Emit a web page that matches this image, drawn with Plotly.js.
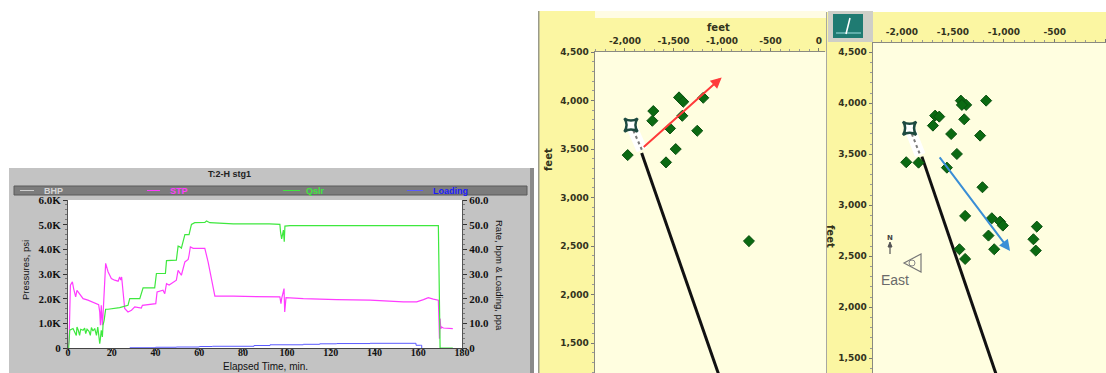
<!DOCTYPE html>
<html>
<head>
<meta charset="utf-8">
<script src="https://cdn.plot.ly/plotly-3.0.1.min.js"></script>
<style>
  html, body { margin: 0; padding: 0; background: #ffffff; }
  #chart { width: 1106px; height: 373px; }
</style>
</head>
<body>
<div id="chart"></div>
<script>
// ---- Treatment plot: stage T:2-H stg1 ----
const stpTime = [0, 0.5, 1.1, 2.0, 2.6, 3.5, 4.1, 5.3, 6.9, 9.1, 11.4, 13, 14, 14.5, 14.8, 15.2, 15.7, 16, 16.5, 17.2, 18.3, 19.8, 21.3, 22.9, 23.6, 24.1, 24.5, 25.2, 25.9, 27.4, 29, 30.5, 33.5, 34, 38.1, 40.1, 40.7, 43.4, 44.2, 45, 46.2, 48, 49.5, 50.3, 51.8, 53.4, 54.9, 55.3, 55.9, 57.2, 62.5, 64, 65.5, 67.1, 75.5, 92, 96.8, 97.3, 97.6, 98.7, 99, 99.6, 107.5, 122.7, 138, 153.2, 159.3, 162.4, 164.6, 166.9, 169.2, 169.5, 169.7, 170, 170.3, 170.7, 171.5, 175.8];
const stpPsi = [0, 300, 2550, 2680, 2400, 2070, 2340, 2200, 2000, 1940, 1870, 1800, 1760, 1460, 920, 1730, 920, 1330, 2270, 3430, 3090, 2820, 2750, 2710, 2880, 2750, 2880, 2140, 1600, 1460, 1530, 1670, 1620, 1730, 1760, 1800, 2270, 2340, 2200, 2610, 2550, 2680, 2750, 3150, 2950, 3490, 3590, 3760, 4100, 4040, 4040, 3490, 2820, 2100, 2100, 2070, 2070, 1800, 2000, 2410, 1460, 2040, 2000, 1960, 1940, 1870, 1870, 1960, 2040, 1980, 1940, 1060, 380, 1190, 785, 850, 810, 785];

const rateTime = [0.3, 0.8, 2.3, 3.8, 4.1, 4.7, 5.3, 5.8, 6.9, 7.6, 8.1, 8.7, 9.6, 10.2, 10.7, 11.4, 12.2, 13, 13.6, 14, 14.5, 14.8, 15.2, 15.7, 16, 16.5, 17.2, 18.3, 21.3, 23.6, 27.4, 28.2, 32.8, 33.5, 34.3, 39.6, 40.4, 44.5, 45, 49.5, 50.3, 51.1, 51.8, 53.4, 55.3, 56.4, 57.9, 62.5, 63.3, 64.8, 75.5, 92, 96.8, 97.1, 97.6, 98.4, 98.8, 99.1, 101.4, 122.7, 138, 153.2, 168.4, 169.2, 169.5, 170, 175.8];
const rateBpm = [0, 7.2, 7.9, 5.1, 8.5, 7.2, 5.1, 7.6, 7.2, 8.1, 5.8, 7.6, 6.8, 5.1, 8.3, 6.9, 7.9, 5.1, 8.5, 5.8, 1.8, 3.8, 7.2, 4.5, 9.2, 11.2, 15.7, 15.7, 16, 16.4, 17.3, 20, 20, 22.1, 24.4, 24.4, 30.2, 30.2, 35.4, 35.6, 41.3, 41, 40.5, 46, 46, 50.1, 50.8, 50.9, 51.5, 50.8, 50.3, 50.3, 50.1, 47.1, 44.2, 47.8, 43.1, 49.4, 49.6, 49.6, 49.6, 49.7, 49.8, 49.6, 30.9, 0, 0];

const loadTime = [28.2, 40, 49.5, 60, 66, 85, 92.3, 107.5, 115, 122.7, 138, 158.5, 159, 161, 161.6];
const loadPpa = [0.1, 0.3, 0.4, 0.6, 0.7, 1.0, 1.3, 1.5, 1.7, 1.8, 1.9, 1.9, 1.1, 1.1, 0];

const timeTicks = [0, 20, 40, 60, 80, 100, 120, 140, 160, 180];
const psiTicks = [0, 1000, 2000, 3000, 4000, 5000, 6000];
const psiLabels = ['0', '1.0K', '2.0K', '3.0K', '4.0K', '5.0K', '6.0K'];
const rateTicks = [0, 10, 20, 30, 40, 50, 60];
const rateLabels = ['0', '10.0', '20.0', '30.0', '40.0', '50.0', '60.0'];

const legendNames = ['BHP', 'STP', 'Qslr', 'Loading'];

// ---- Map views (feet) ----
const eastTicks = [-2000, -1500, -1000, -500, 0];
const eastLabels = ['-2,000', '-1,500', '-1,000', '-500', '0'];
const northTicks = [1500, 2000, 2500, 3000, 3500, 4000, 4500];
const northLabels = ['1,500', '2,000', '2,500', '3,000', '3,500', '4,000', '4,500'];

// view A
const wellEastA = [-1828, -973];
const wellNorthA = [3459, 1000];
const perfEastA = [-1938, -1825];
const perfNorthA = [3748, 3490];
const eventsEastA = [-1972, -1708, -1718, -1443, -1399, -1193, -1409, -1536, -1255, -1477, -1577, -722];
const eventsNorthA = [3438, 3892, 3792, 4033, 3988, 4029, 3843, 3713, 3689, 3500, 3363, 2551];
const trendEastA = [-1822, -1003];
const trendNorthA = [3507, 4239];

// view B
const wellEastB = [-1804, -959];
const wellNorthB = [3477, 1000];
const perfEastB = [-1925, -1821];
const perfNorthB = [3755, 3493];
const eventsEastB = [-1958, -1837, -1696, -1674, -1634, -1422, -1370, -1412, -1174, -1389, -1517, -1233, -1461, -1559, -1210, -1380, -1118, -1037, -1010, -1151, -1436, -1095, -1380, -677, -710, -687];
const eventsNorthB = [3422, 3418, 3781, 3879, 3869, 4026, 3984, 3984, 4026, 3843, 3699, 3683, 3503, 3369, 3177, 2896, 2873, 2840, 2801, 2703, 2569, 2569, 2474, 2791, 2667, 2556];
const trendEastB = [-1641, -939];
const trendNorthB = [3484, 2553];

// ---- helpers: page pixels -> paper fractions ----
const W = 1106, H = 373;
const px = x => x / W;
const py = y => 1 - y / H;

function rect(x0, y0, x1, y1, fill, line) {
  return {type: 'rect', xref: 'paper', yref: 'paper', layer: 'below',
    x0: px(x0), x1: px(x1), y0: py(y1), y1: py(y0),
    fillcolor: fill, line: line || {width: 0}};
}
function seg(x0, y0, x1, y1, color, width, dash) {
  return {type: 'line', xref: 'paper', yref: 'paper', layer: 'above',
    x0: px(x0), x1: px(x1), y0: py(y0), y1: py(y1),
    line: {color: color, width: width || 1, dash: dash || 'solid'}};
}
function note(text, x, y, opts) {
  return Object.assign({text: text, xref: 'paper', yref: 'paper', x: px(x), y: py(y),
    showarrow: false, xanchor: 'center', yanchor: 'middle'}, opts || {});
}

const serifTick = {family: 'Liberation Serif, DejaVu Serif, serif', size: 11, color: '#111', weight: 'bold'};
const serifTickX = {family: 'Liberation Serif, DejaVu Serif, serif', size: 10, color: '#111', weight: 'bold'};
const mapTick = {family: 'DejaVu Sans, Verdana, sans-serif', size: 9, color: '#33331c', weight: 'bold'};

const perfStyle = (xa, ya, ex, ny) => [
  {x: ex, y: ny, type: 'scatter', mode: 'lines', xaxis: xa, yaxis: ya,
   line: {color: '#ffffff', width: 11}, showlegend: false, hoverinfo: 'skip'},
  {x: ex, y: ny, type: 'scatter', mode: 'lines', xaxis: xa, yaxis: ya,
   line: {color: '#7a7a7a', width: 2, dash: 'dot'}, showlegend: false, hoverinfo: 'skip'},
  {x: [ex[0]], y: [ny[0]], type: 'scatter', mode: 'markers', xaxis: xa, yaxis: ya,
   marker: {symbol: 'star-square', size: 12, color: '#ffffff', line: {color: '#1d4a40', width: 2.5}},
   showlegend: false}
];

const traces = [
  {x: stpTime, y: stpPsi, type: 'scatter', mode: 'lines', xaxis: 'x', yaxis: 'y',
   line: {color: '#ff3cff', width: 1.2}, name: 'STP', showlegend: false},
  {x: rateTime, y: rateBpm, type: 'scatter', mode: 'lines', xaxis: 'x', yaxis: 'y2',
   line: {color: '#3ee83e', width: 1.2}, name: 'Qslr', showlegend: false},
  {x: loadTime, y: loadPpa, type: 'scatter', mode: 'lines', xaxis: 'x', yaxis: 'y2',
   line: {color: '#5a5aff', width: 1, shape: 'hv'}, name: 'Loading', showlegend: false},

  // view A
  {x: wellEastA, y: wellNorthA, type: 'scatter', mode: 'lines', xaxis: 'x3', yaxis: 'y3',
   line: {color: '#111', width: 3}, showlegend: false, hoverinfo: 'skip'},
  ...perfStyle('x3', 'y3', perfEastA, perfNorthA),
  {x: eventsEastA, y: eventsNorthA, type: 'scatter', mode: 'markers', xaxis: 'x3', yaxis: 'y3',
   marker: {symbol: 'diamond', size: 8.5, color: '#0b6a12', line: {color: '#0a5010', width: 1}}, showlegend: false},

  // view B
  {x: wellEastB, y: wellNorthB, type: 'scatter', mode: 'lines', xaxis: 'x4', yaxis: 'y4',
   line: {color: '#111', width: 3}, showlegend: false, hoverinfo: 'skip'},
  ...perfStyle('x4', 'y4', perfEastB, perfNorthB),
  {x: eventsEastB, y: eventsNorthB, type: 'scatter', mode: 'markers', xaxis: 'x4', yaxis: 'y4',
   marker: {symbol: 'diamond', size: 8.5, color: '#0b6a12', line: {color: '#0a5010', width: 1}}, showlegend: false}
];

const shapes = [
  // treatment plot frame
  rect(9, 168, 531, 373, '#c3c3c3'),
  rect(530, 168, 534, 373, '#8a8a8a'),
  rect(14, 186, 527, 195, '#7c7c7c', {color: '#5a5a5a', width: 1}),
  rect(68, 200, 462, 348, '#ffffff'),
  // view A frame
  rect(539, 11, 826, 373, '#fbf6a2'),
  rect(595, 11, 826, 18, '#fffce4'),
  rect(595, 52, 826, 373, '#fffee0'),
  rect(538, 11, 539.5, 373, '#9a9a8a'),
  // view B frame
  rect(826, 12, 1106, 373, '#fbf6a2'),
  rect(873, 43, 1106, 373, '#fffee0'),
  rect(826, 12, 827, 373, '#a8a8a0'),
  rect(828, 11, 873, 42, '#cfcfc8'),
  rect(833, 14, 863, 38, '#1f7b72')
];
// treatment legend line samples
const legendLines = [[20, 34, '#cfcfcf'], [147, 160, '#ff3cff'], [283, 300, '#3ee83e'], [407, 423, '#5a5aff']];
legendLines.forEach(l => shapes.push(seg(l[0], 190.5, l[1], 190.5, l[2], 1)));
// icon glyph and compass
shapes.push(seg(836, 33, 861, 33, '#9fe0e0', 1));
shapes.push(seg(846, 34, 850, 18, '#ffffff', 1.5));
shapes.push(seg(890, 254, 890, 245, '#555', 1.2));
shapes.push({type: 'path', xref: 'paper', yref: 'paper', layer: 'above',
  path: `M ${px(888)},${py(247)} L ${px(890)},${py(242)} L ${px(892)},${py(247)} Z`,
  fillcolor: '#555', line: {color: '#555', width: 1}});
shapes.push({type: 'path', xref: 'paper', yref: 'paper', layer: 'above',
  path: `M ${px(921)},${py(254)} L ${px(904)},${py(263)} L ${px(921)},${py(272)} Z`,
  fillcolor: 'rgba(0,0,0,0)', line: {color: '#777', width: 1.2}});
shapes.push({type: 'circle', xref: 'paper', yref: 'paper', layer: 'above',
  x0: px(909), x1: px(915), y0: py(266), y1: py(260),
  line: {color: '#888', width: 1}});

const legendFont = c => ({family: 'Liberation Sans, Arial, sans-serif', size: 9, color: c, weight: 'bold'});
const annotations = [
  note('T:2-H stg1', 229, 174, {font: {family: 'Liberation Sans, Arial, sans-serif', size: 9, color: '#222', weight: 'bold'}}),
  note(legendNames[0], 53, 190.5, {font: legendFont('#d6d6d6')}),
  note(legendNames[1], 179, 190.5, {font: legendFont('#ff3cff')}),
  note(legendNames[2], 315, 190.5, {font: legendFont('#3ee83e')}),
  note(legendNames[3], 450, 190.5, {font: legendFont('#1c1cff')}),
  note('Elapsed Time, min.', 265, 366, {font: {family: 'Liberation Sans, Arial, sans-serif', size: 10, color: '#111'}}),
  note('Pressures, psi', 25, 270, {textangle: -90, font: {family: 'Liberation Sans Narrow, Liberation Sans, Arial, sans-serif', size: 9.5, color: '#111'}}),
  note('Rate, bpm & Loading, ppa', 500, 275, {textangle: 90, font: {family: 'Liberation Sans Narrow, Liberation Sans, Arial, sans-serif', size: 9.5, color: '#111'}}),
  note('feet', 718, 27, {font: {family: 'DejaVu Sans, Verdana, sans-serif', size: 10, color: '#33331c', weight: 'bold'}}),
  note('feet', 548, 160, {textangle: -90, font: {family: 'DejaVu Sans, Verdana, sans-serif', size: 10, color: '#33331c', weight: 'bold'}}),
  note('feet', 831, 236, {textangle: 90, font: {family: 'DejaVu Sans, Verdana, sans-serif', size: 10, color: '#33331c', weight: 'bold'}}),
  note('N', 890, 238, {font: {family: 'DejaVu Sans, sans-serif', size: 7, color: '#444', weight: 'bold'}}),
  note('East', 895, 280, {font: {family: 'Liberation Sans, Arial, sans-serif', size: 14, color: '#6a6a6a'}}),
  // trend arrows
  {xref: 'x3', yref: 'y3', axref: 'x3', ayref: 'y3', x: trendEastA[1], y: trendNorthA[1],
   ax: trendEastA[0], ay: trendNorthA[0], text: '', showarrow: true,
   arrowhead: 2, arrowsize: 1.1, arrowwidth: 2, arrowcolor: '#ff3a3a'},
  {xref: 'x4', yref: 'y4', axref: 'x4', ayref: 'y4', x: trendEastB[1], y: trendNorthB[1],
   ax: trendEastB[0], ay: trendNorthB[0], text: '', showarrow: true,
   arrowhead: 2, arrowsize: 1.1, arrowwidth: 2, arrowcolor: '#3a8ed6'}
];

const mapX = (dom, range, anchor) => ({
  domain: dom, range: range, anchor: anchor, side: 'top',
  tickmode: 'array', tickvals: eastTicks, ticktext: eastLabels, tickfont: mapTick,
  ticks: 'outside', ticklen: 3, tickcolor: '#777', showline: true, linecolor: '#8a8a80', linewidth: 1.5,
  showgrid: false, zeroline: false, fixedrange: true,
  minor: {ticks: 'outside', ticklen: 2, dtick: 100, tickcolor: '#999'}
});
const mapY = (dom, range, anchor) => ({
  domain: dom, range: range, anchor: anchor,
  tickmode: 'array', tickvals: northTicks, ticktext: northLabels, tickfont: mapTick,
  ticks: 'outside', ticklen: 3, tickcolor: '#777', showline: true, linecolor: '#8a8a80', linewidth: 1.5,
  showgrid: false, zeroline: false, fixedrange: true,
  minor: {ticks: 'outside', ticklen: 2, dtick: 100, tickcolor: '#999'}
});

const layout = {
  width: W, height: H,
  margin: {l: 0, r: 0, t: 0, b: 0},
  paper_bgcolor: '#ffffff',
  plot_bgcolor: 'rgba(0,0,0,0)',
  showlegend: false,
  xaxis: {
    domain: [px(68), px(462)], range: [0, 180], anchor: 'y',
    tickmode: 'array', tickvals: timeTicks, tickfont: serifTickX,
    ticks: 'outside', ticklen: 2, tickcolor: '#333', showline: true, linecolor: '#444',
    ticklabelstandoff: -7,
    showgrid: false, zeroline: false, fixedrange: true
  },
  yaxis: {
    domain: [py(348), py(200)], range: [0, 6000], anchor: 'x',
    tickmode: 'array', tickvals: psiTicks, ticktext: psiLabels, tickfont: serifTick,
    ticks: 'outside', ticklen: 4, tickcolor: '#333', showline: true, linecolor: '#555',
    showgrid: false, zeroline: false, fixedrange: true,
    minor: {ticks: 'outside', ticklen: 2, dtick: 200, tickcolor: '#777'}
  },
  yaxis2: {
    overlaying: 'y', side: 'right', range: [0, 60], anchor: 'x',
    tickmode: 'array', tickvals: rateTicks, ticktext: rateLabels, tickfont: serifTick,
    ticks: 'outside', ticklen: 4, tickcolor: '#333', showline: true, linecolor: '#555',
    showgrid: false, zeroline: false, fixedrange: true,
    minor: {ticks: 'outside', ticklen: 2, dtick: 2, tickcolor: '#777'}
  },
  xaxis3: mapX([px(595), px(825)], [-2309, 62], 'y3'),
  yaxis3: mapY([0, py(52)], [1191, 4501], 'x3'),
  xaxis4: mapX([px(873), 1], [-2284, 2], 'y4'),
  yaxis4: mapY([0, py(43.3)], [1356, 4588], 'x4'),
  shapes: shapes,
  annotations: annotations
};

Plotly.newPlot('chart', traces, layout, {displayModeBar: false, staticPlot: true});
</script>
</body>
</html>
